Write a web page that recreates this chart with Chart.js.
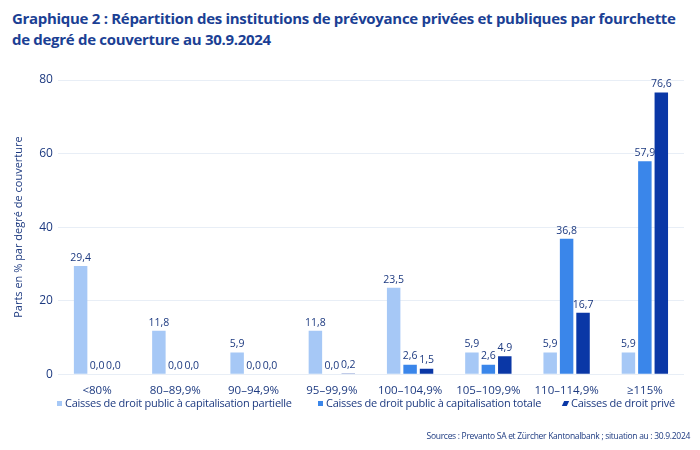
<!DOCTYPE html>
<html>
<head>
<meta charset="utf-8">
<script src="https://cdn.jsdelivr.net/npm/chart.js@4"></script>
<style>
  body { margin: 0; background: #fff; }
  #wrap { position: relative; width: 700px; height: 450px; font-family: "Open Sans", sans-serif; color: #1d3a80; }
  #title { position: absolute; left: 12px; top: 8px; font-size: 15px; font-weight: bold; line-height: 21px; color: #1b3f94; letter-spacing: -0.3px; white-space: nowrap; }
  #source { position: absolute; right: 10px; top: 430px; font-size: 8.5px; letter-spacing: -0.3px; color: #1d3a80; white-space: nowrap; }
  .leg { position: absolute; top: 395px; font-size: 11px; letter-spacing: -0.25px; white-space: nowrap; }
  .leg i { display: inline-block; width: 5px; height: 5px; margin-right: 3px; vertical-align: 1px; }
  canvas { position: absolute; left: 0; top: 0; }
</style>
</head>
<body>
<div id="wrap">
  <div id="title">Graphique 2 : Répartition des institutions de prévoyance privées et publiques par fourchette<br>de degré de couverture au 30.9.2024</div>
  <canvas id="chart" width="700" height="450"></canvas>
  <div id="legend"></div>
  <div id="source">Sources : Prevanto SA et Zürcher Kantonalbank ; situation au : 30.9.2024</div>
</div>
<script>
// categories and series
const categories = ['<80%', '80–89,9%', '90–94,9%', '95–99,9%', '100–104,9%', '105–109,9%', '110–114,9%', '≥115%'];
const seriesNames = [
    'Caisses de droit public à capitalisation partielle',
    'Caisses de droit public à capitalisation totale',
    'Caisses de droit privé'
];
const publicPartial = [29.4, 11.8, 5.9, 11.8, 23.5, 5.9, 5.9, 5.9];
const publicFull = [0.0, 0.0, 0.0, 0.0, 2.6, 2.6, 36.8, 57.9];
const privateFunds = [0.0, 0.0, 0.0, 0.2, 1.5, 4.9, 16.7, 76.6];
const yTicks = [0, 20, 40, 60, 80];

const textColor = '#1d3a80';
const colors = ['#a6c8f6', '#3a86ea', '#0a37a6'];
const legendLeft = [57, 318, 563];

// value labels above each bar
const valueLabels = {
    id: 'valueLabels',
    afterDatasetsDraw(chart) {
        const ctx = chart.ctx;
        ctx.save();
        ctx.font = '10.5px "Open Sans"';
        ctx.fillStyle = textColor;
        ctx.textAlign = 'center';
        ctx.textBaseline = 'bottom';
        chart.data.datasets.forEach((ds, i) => {
            const meta = chart.getDatasetMeta(i);
            meta.data.forEach((bar, j) => {
                const txt = ds.data[j].toFixed(1).replace('.', ',');
                ctx.fillText(txt, bar.x, bar.y - 3);
            });
        });
        ctx.restore();
    }
};

const datasets = [publicPartial, publicFull, privateFunds].map((d, i) => ({
    label: seriesNames[i],
    data: d,
    backgroundColor: colors[i],
    categoryPercentage: 0.63,
    barPercentage: 0.82
}));

// legend as html, spread like the original
document.getElementById('legend').innerHTML = seriesNames.map((name, i) => {
    const skew = i === 2 ? 'transform: skewX(-25deg);' : '';
    return `<div class="leg" style="left:${legendLeft[i]}px"><i style="background:${colors[i]};${skew}"></i>${name}</div>`;
}).join('');

new Chart(document.getElementById('chart'), {
    type: 'bar',
    data: { labels: categories, datasets },
    plugins: [valueLabels],
    options: {
        responsive: false,
        animation: false,
        layout: { padding: { left: 8, right: 16, top: 80, bottom: 50 } },
        plugins: {
            legend: { display: false },
            tooltip: { enabled: false }
        },
        scales: {
            x: {
                grid: { display: false },
                border: { display: false },
                ticks: { color: textColor, font: { size: 11.5, family: '"Open Sans"' }, padding: 2 }
            },
            y: {
                min: 0,
                max: 80,
                afterBuildTicks(scale) { scale.ticks = yTicks.map(v => ({ value: v })); },
                grid: { color: '#e8eef6', drawTicks: false },
                border: { display: false },
                ticks: { color: textColor, font: { size: 12, family: '"Open Sans"' }, padding: 5 },
                title: {
                    display: true,
                    text: 'Parts en % par degré de couverture',
                    color: textColor,
                    font: { size: 11, family: '"Open Sans"' },
                    padding: { top: 4, bottom: 9 }
                }
            }
        }
    }
});
</script>
</body>
</html>
